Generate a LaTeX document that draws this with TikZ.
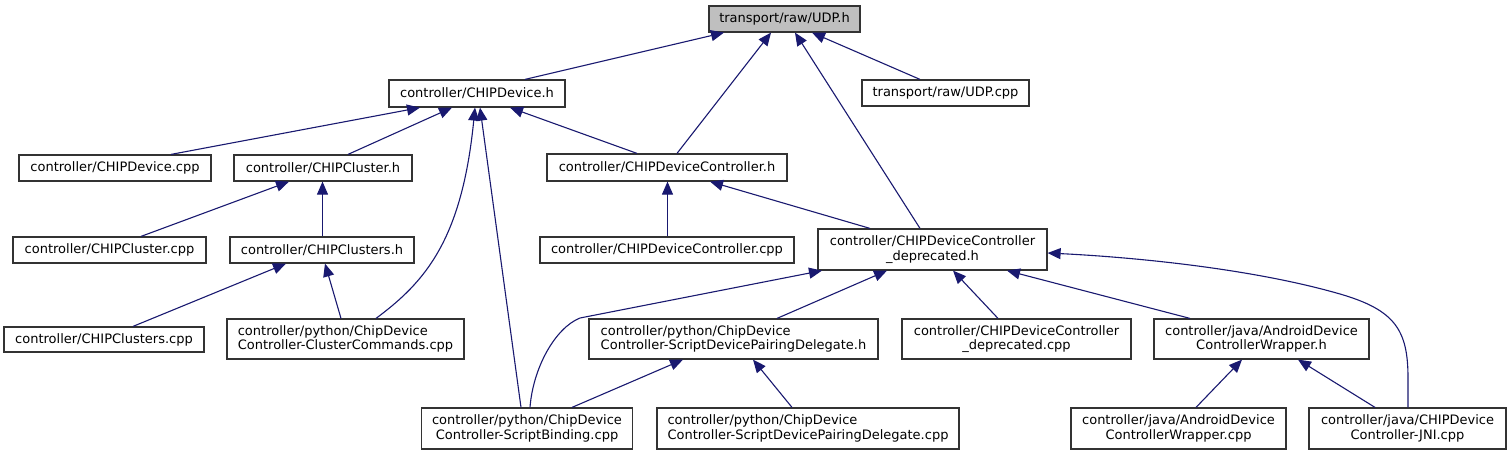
\documentclass[tikz,border=0pt]{standalone}
\usepackage{fontspec}
\setmainfont{DejaVu Sans}
\usetikzlibrary{arrows.meta}
\definecolor{edgecol}{HTML}{191970}
\definecolor{boxborder}{HTML}{333333}
\definecolor{rootfill}{HTML}{BFBFBF}
\begin{document}
\begin{tikzpicture}[x=1pt,y=-1pt,
  box/.style={draw=boxborder, line width=1.2pt, fill=white, inner sep=0pt,
    font=\fontsize{13}{14.5}\selectfont, align=center},
  lbox/.style={box, align=left},
  edge/.style={draw=edgecol, line width=1.1pt, -{Triangle[length=13pt,width=11pt]}}]
\useasboundingbox[fill=white] (0,0) rectangle (1511,455);

% nodes
\node[box, fill=rootfill, minimum width=151, minimum height=26] (udp) at (784.5,19) {transport/raw/UDP.h};
\node[box, minimum width=176, minimum height=27] (cdh) at (477,93.5) {controller/CHIPDevice.h};
\node[box, minimum width=167, minimum height=26] (udpcpp) at (945.5,93) {transport/raw/UDP.cpp};
\node[box, minimum width=240, minimum height=27] (cdch) at (667,167.5) {controller/CHIPDeviceController.h};
\node[box, minimum width=192, minimum height=26] (cdcpp) at (115,168) {controller/CHIPDevice.cpp};
\node[box, minimum width=178, minimum height=26] (cch) at (323,168) {controller/CHIPCluster.h};
\node[box, minimum width=193, minimum height=26] (cccpp) at (109.5,250) {controller/CHIPCluster.cpp};
\node[box, minimum width=184, minimum height=26] (ccsh) at (322,250) {controller/CHIPClusters.h};
\node[box, minimum width=200, minimum height=25] (ccscpp) at (104,339.5) {controller/CHIPClusters.cpp};
\node[lbox, minimum width=237, minimum height=40] (clcmd) at (345.5,339) {controller/python/ChipDevice\\Controller-ClusterCommands.cpp};
\node[box, minimum width=254, minimum height=26] (cdccpp) at (667,250) {controller/CHIPDeviceController.cpp};
\node[box, minimum width=229, minimum height=41] (depr) at (932.5,249.5) {controller/CHIPDeviceController\\\_deprecated.h};
\node[lbox, minimum width=289, minimum height=40] (sdpdh) at (733.5,339) {controller/python/ChipDevice\\Controller-ScriptDevicePairingDelegate.h};
\node[box, minimum width=229, minimum height=40] (deprcpp) at (1016.5,339) {controller/CHIPDeviceController\\\_deprecated.cpp};
\node[box, minimum width=215, minimum height=40] (awh) at (1261.5,339) {controller/java/AndroidDevice\\ControllerWrapper.h};
\node[box, minimum width=211, minimum height=41] (sbcpp) at (527,428.5) {controller/python/ChipDevice\\Controller-ScriptBinding.cpp};
\node[lbox, minimum width=302, minimum height=41] (sdpdcpp) at (808,428.5) {controller/python/ChipDevice\\Controller-ScriptDevicePairingDelegate.cpp};
\node[box, minimum width=215, minimum height=41] (awcpp) at (1178.5,428.5) {controller/java/AndroidDevice\\ControllerWrapper.cpp};
\node[box, minimum width=197, minimum height=41] (jni) at (1407.5,428.5) {controller/java/CHIPDevice\\Controller-JNI.cpp};

% edges (child -> parent)
\draw[edge] (cdh.north -| 525,0) -- (udp.south -| 724,0);
\draw[edge] (cdch.north -| 677,0) -- (udp.south -| 771,0);
\draw[edge] (depr.north -| 920,0) -- (udp.south -| 795,0);
\draw[edge] (udpcpp.north -| 920,0) -- (udp.south -| 812,0);

\draw[edge] (cdcpp.north -| 171,0) -- (cdh.south -| 420,0);
\draw[edge] (cch.north -| 348,0) -- (cdh.south -| 452,0);
\draw[edge] (clcmd.north -| 376,0) .. controls (425,282) and (462,240) .. (cdh.south -| 475,0);
\draw[edge] (sbcpp.north -| 521,0) -- (cdh.south -| 480,0);
\draw[edge] (cdch.north -| 637,0) -- (cdh.south -| 510,0);

\draw[edge] (cccpp.north -| 141,0) -- (cch.south -| 289,0);
\draw[edge, line width=1pt] (ccsh.north -| 322.5,0) -- (cch.south -| 322.5,0);
\draw[edge] (ccscpp.north -| 133,0) -- (ccsh.south -| 286,0);
\draw[edge] (clcmd.north -| 341,0) -- (ccsh.south -| 325,0);

\draw[edge, line width=1pt] (cdccpp.north -| 667.5,0) -- (cdch.south -| 667.5,0);
\draw[edge] (depr.north -| 870,0) -- (cdch.south -| 710,0);

\draw[edge] (sbcpp.north -| 530,0) .. controls (533,368) and (555,328) .. (580,318) -- (depr.south -| 822,0);
\draw[edge] (sdpdh.north -| 777,0) -- (depr.south -| 887,0);
\draw[edge] (deprcpp.north -| 998,0) -- (depr.south -| 953,0);
\draw[edge] (awh.north -| 1190,0) -- (depr.south -| 1007,0);
\draw[edge] (jni.north -| 1408,0) -- (1408,378) .. controls (1408,330) and (1395,310) .. (1340,294) .. controls (1250,268) and (1130,257) .. (depr.east |- 0,253);

\draw[edge] (sbcpp.north -| 572,0) -- (sdpdh.south -| 683,0);
\draw[edge] (sdpdcpp.north -| 792,0) -- (sdpdh.south -| 753,0);
\draw[edge] (awcpp.north -| 1196,0) -- (awh.south -| 1242,0);
\draw[edge] (jni.north -| 1375,0) -- (awh.south -| 1298,0);
\end{tikzpicture}
\end{document}
